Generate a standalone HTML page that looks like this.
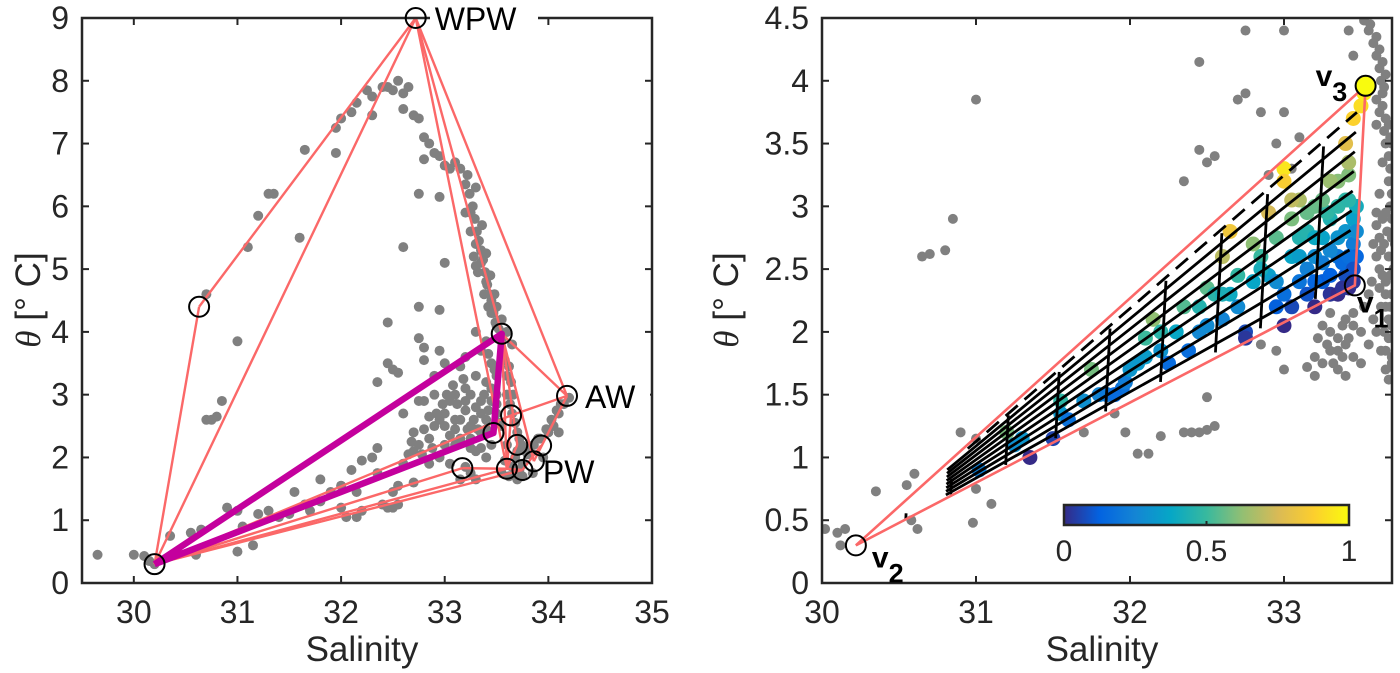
<!DOCTYPE html>
<html><head><meta charset="utf-8"><style>
body{margin:0;background:#fff}
svg{display:block;font-family:"Liberation Sans",sans-serif}
</style></head><body>
<svg id="fig" width="1400" height="673" viewBox="0 0 1400 673">
<defs>
<linearGradient id="parula" x1="0" x2="1" y1="0" y2="0">
<stop offset="0" stop-color="#352a87"/><stop offset="0.125" stop-color="#0363e1"/><stop offset="0.25" stop-color="#1485d4"/><stop offset="0.375" stop-color="#06a7c6"/><stop offset="0.5" stop-color="#38b99e"/><stop offset="0.625" stop-color="#92bf73"/><stop offset="0.75" stop-color="#d9ba56"/><stop offset="0.875" stop-color="#fcce2e"/><stop offset="1" stop-color="#f9fb0e"/>
</linearGradient>
<clipPath id="clipR"><rect x="822" y="18" width="570" height="565"/></clipPath>
</defs>
<g id="L"></g>
<g id="R"></g>
</svg>
<script>
// ---------- data ----------
const leftGray=[[29.65,0.45],[30.0,0.45],[30.1,0.43],[30.15,0.35],[30.2,0.3],[30.35,0.75],[30.55,0.8],[30.65,0.85],[30.6,0.45],[31.0,0.5],[31.05,0.9],[31.15,0.6],[30.9,1.2],[31.0,1.15],[31.2,1.1],[31.3,1.15],[31.4,1.05],[31.5,1.1],[31.55,1.45],[31.65,1.25],[31.8,1.3],[31.8,1.65],[31.9,1.45],[32.0,1.2],[32.0,1.55],[32.05,1.05],[32.15,1.05],[32.2,1.15],[32.1,1.8],[32.2,1.95],[32.3,2.0],[32.35,1.75],[32.35,2.15],[32.4,1.25],[32.45,1.2],[32.5,1.2],[32.55,1.25],[32.5,1.45],[32.6,1.9],[32.65,2.05],[32.7,2.1],[32.7,2.4],[32.75,2.2],[32.8,2.45],[32.85,2.3],[32.9,2.5],[32.95,2.6],[33.0,2.7],[33.0,2.2],[33.05,2.9],[33.1,2.6],[33.1,3.0],[33.15,2.3],[33.2,2.75],[33.2,3.1],[33.25,2.5],[33.3,2.8],[33.3,3.3],[33.35,2.4],[33.35,2.9],[33.4,3.2],[33.4,2.6],[33.45,2.9],[33.45,3.5],[33.5,3.0],[33.5,2.7],[32.9,3.0],[32.8,2.9],[32.6,2.7],[32.75,2.9],[32.9,3.3],[33.0,3.5],[32.8,3.55],[33.15,3.45],[33.05,1.9],[33.2,1.85],[33.25,1.75],[33.3,1.65],[33.4,2.0],[33.55,3.6],[33.6,3.3],[33.6,3.0],[33.65,2.7],[33.7,2.4],[33.7,2.1],[33.75,1.9],[33.7,1.65],[33.8,2.05],[33.9,2.3],[34.0,2.4],[34.05,2.5],[34.1,2.7],[34.15,2.85],[34.2,2.95],[33.6,2.2],[33.65,1.85],[33.55,2.5],[33.6,4.0],[33.65,3.8],[33.55,4.2],[30.7,2.6],[30.75,2.6],[30.8,2.65],[30.85,2.9],[31.0,3.85],[30.7,4.6],[31.1,5.35],[31.2,5.85],[31.3,6.2],[31.35,6.2],[31.6,5.5],[31.65,6.9],[31.95,7.25],[31.95,6.85],[32.0,7.4],[32.1,7.5],[32.15,7.65],[32.3,7.45],[32.25,7.85],[32.3,7.75],[32.4,7.9],[32.45,7.9],[32.5,7.85],[32.55,8.0],[32.6,7.8],[32.65,7.9],[32.6,7.55],[32.7,7.45],[32.75,7.4],[32.8,7.1],[32.85,7.0],[32.8,6.75],[32.9,6.85],[32.95,6.8],[33.0,6.65],[33.05,6.6],[33.1,6.7],[33.15,6.6],[33.2,6.35],[32.75,6.2],[32.95,6.15],[33.2,5.9],[33.25,5.9],[33.25,5.6],[33.3,5.4],[33.35,5.1],[33.4,4.8],[33.45,4.5],[33.45,4.3],[33.5,4.1],[32.6,5.35],[33.0,5.1],[32.75,4.4],[32.95,4.35],[32.75,3.9],[32.8,3.75],[32.95,3.7],[32.45,4.15],[32.45,3.5],[32.5,3.4],[32.35,3.2],[32.55,3.35],[33.28,5.2],[33.32,4.95],[33.38,4.6],[33.42,4.4],[33.3,4.0],[33.35,3.7],[33.2,3.6],[33.4,3.85],[33.5,3.3],[33.45,2.2],[33.3,2.1],[33.25,2.3],[33.1,2.2],[32.95,2.0],[32.85,1.9],[33.55,1.75],[33.75,1.7],[33.85,1.75],[33.95,2.0],[34.1,2.4],[33.15,1.65],[32.7,1.6],[32.55,1.55],[32.15,1.45],[31.7,1.15]];
const leftGrayDense=[[33.22,6.5],[33.24,6.2],[33.27,6.0],[33.29,5.8],[33.31,5.6],[33.33,5.45],[33.35,5.3],[33.37,5.15],[33.39,4.95],[33.41,4.75],[33.43,4.6],[33.45,4.45],[33.47,4.3],[33.49,4.15],[33.52,4.05],[33.36,5.7],[33.4,5.25],[33.44,4.9],[33.48,4.6],[33.5,4.4],[33.3,6.3],[33.3,5.05],[33.55,3.85],[33.58,3.55],[33.62,3.45],[33.64,3.2],[33.66,3.0],[33.63,2.85],[33.68,2.55],[33.72,2.3],[33.74,2.2],[33.78,2.1],[33.82,2.15],[33.86,2.2],[33.92,2.3],[33.98,2.45],[34.03,2.6],[34.08,2.75],[34.12,2.85],[33.68,2.0],[33.72,1.8],[33.62,1.7],[33.58,1.95],[33.25,3.0],[33.2,2.9],[33.15,2.6],[33.1,2.45],[33.05,2.35],[33.0,2.5],[33.35,2.7],[33.38,3.0],[33.42,2.75],[33.28,2.6],[33.32,2.45],[33.22,2.45],[33.12,2.85],[33.18,3.25],[33.08,3.15],[33.45,3.1],[33.5,2.85],[33.4,2.45],[33.35,2.15],[33.25,2.15],[32.98,2.85],[32.92,2.7],[32.85,2.65],[32.88,2.15],[32.78,2.05],[32.68,2.25],[33.02,3.0],[33.52,2.55],[33.48,3.4],[33.42,3.65]];
const leftVerts=[[32.72,9.0],[30.63,4.4],[30.2,0.3],[34.18,2.98],[33.55,3.97],[33.47,2.39],[33.64,2.67],[33.17,1.83],[33.6,1.82],[33.75,1.8],[33.86,1.94],[33.93,2.19],[33.7,2.2]];
const leftEdges=[[0,1],[1,2],[0,2],[0,4],[0,3],[0,8],[4,3],[4,10],[4,8],[3,6],[3,10],[2,7],[2,8],[2,6],[2,9],[7,8],[6,8],[8,9],[9,11],[4,12],[12,8]];
const leftMagenta=[[30.2,0.3],[33.55,3.97],[33.47,2.39],[30.2,0.3]];
const leftXTicks=[30,31,32,33,34,35];
const leftYTicks=[0,1,2,3,4,5,6,7,8,9];

const rightGray=[[31.0,3.85],[30.65,2.6],[30.7,2.62],[30.8,2.65],[30.85,2.9],[32.45,4.15],[32.75,4.4],[33.0,4.4],[32.7,3.85],[32.75,3.9],[32.45,3.45],[32.5,3.35],[32.55,3.4],[32.35,3.2],[32.85,3.75],[32.95,3.5],[33.0,3.75],[33.05,3.3],[32.9,3.25],[33.1,3.55],[30.02,0.43],[30.1,0.4],[30.15,0.43],[30.12,0.3],[30.35,0.73],[30.55,0.78],[30.6,0.87],[30.58,0.5],[30.62,0.43],[30.9,1.2],[31.0,1.15],[31.0,0.75],[31.1,0.63],[30.98,0.48],[31.7,1.2],[31.9,1.35],[31.97,1.2],[32.05,1.03],[32.12,1.03],[32.2,1.17],[32.35,1.2],[32.4,1.2],[32.45,1.2],[32.5,1.22],[32.55,1.25],[32.5,1.48],[32.85,1.9],[33.0,1.7],[32.95,1.85],[33.15,1.72],[33.2,1.65],[33.25,1.75],[33.3,1.85],[33.25,2.05],[33.3,2.15],[33.35,1.95],[33.4,2.1],[33.3,2.3],[33.52,4.48],[33.55,4.4],[33.58,4.3],[33.6,4.2],[33.62,4.1],[33.63,4.0],[33.6,3.85],[33.62,3.75],[33.65,3.6],[33.66,3.5],[33.68,3.4],[33.7,3.3],[33.68,3.2],[33.7,3.1],[33.72,3.0],[33.7,2.9],[33.74,2.85],[33.6,2.85],[33.62,2.75],[33.65,2.7],[33.72,2.7],[33.75,2.6],[33.6,2.6],[33.62,2.5],[33.66,2.4],[33.7,2.3],[33.73,2.2],[33.75,2.1],[33.68,2.1],[33.72,2.0],[33.74,1.9],[33.7,1.8],[33.72,1.7],[33.75,1.75],[33.68,1.62],[33.55,2.3],[33.52,2.2],[33.45,2.15],[33.5,2.0],[33.4,1.9],[33.45,1.8],[33.35,1.7],[33.4,1.65],[33.5,1.75],[33.55,1.9],[33.5,3.95],[33.45,4.2],[33.42,4.4],[33.6,3.65],[33.56,4.45],[33.64,3.9],[33.69,3.55],[33.71,2.5],[33.66,2.2],[33.6,2.0],[33.63,1.85]];
const rightGrayBand=[[33.6,4.35],[33.62,4.25],[33.64,4.15],[33.66,4.05],[33.65,3.95],[33.64,3.8],[33.66,3.7],[33.68,3.65],[33.7,3.5],[33.71,3.4],[33.69,3.3],[33.71,3.2],[33.69,3.0],[33.66,2.95],[33.64,2.9],[33.67,2.8],[33.7,2.75],[33.63,2.65],[33.68,2.6],[33.64,2.45],[33.69,2.45],[33.62,2.35],[33.66,2.3],[33.63,2.2],[33.69,2.2],[33.7,2.05],[33.65,2.0],[33.68,1.95],[33.66,1.85],[33.7,1.75],[33.66,1.7],[33.58,2.1],[33.57,2.4],[33.58,2.7],[33.6,2.95],[33.62,3.1],[33.64,3.35],[33.3,2.0],[33.28,1.9],[33.35,1.85],[33.32,1.75],[33.38,1.8],[33.42,1.95],[33.45,2.05],[33.38,2.05],[33.22,1.95],[33.2,1.8]];
const rightColored=[[31.02,0.9],[31.2,1.2],[31.25,1.1],[31.3,1.15],[31.35,1.0],[31.5,1.15],[31.55,1.45],[31.55,1.35],[31.6,1.3],[31.75,1.7],[31.8,1.5],[31.85,1.5],[31.95,1.55],[31.97,1.6],[32.0,1.7],[32.1,1.95],[32.1,1.8],[32.15,2.1],[32.2,1.85],[32.25,1.75],[32.35,2.2],[32.38,1.85],[32.45,2.0],[32.5,2.35],[32.5,2.05],[32.55,2.3],[32.6,2.1],[32.65,2.3],[32.7,2.2],[32.75,2.0],[32.75,1.95],[32.8,2.4],[32.85,2.6],[32.9,2.95],[32.95,2.75],[33.0,2.05],[33.0,2.3],[33.0,3.3],[33.0,3.2],[33.05,2.6],[33.05,2.9],[33.1,2.75],[33.1,3.05],[33.15,2.5],[33.15,2.8],[33.2,2.6],[33.2,3.0],[33.25,2.4],[33.25,2.75],[33.3,2.9],[33.3,2.3],[33.35,2.6],[33.35,3.2],[33.4,2.45],[33.4,2.8],[33.4,3.05],[33.45,2.7],[33.45,2.9],[33.42,3.25],[33.4,3.5],[33.45,3.7],[33.5,3.8],[33.35,2.3],[33.42,2.35],[33.47,2.6],[33.47,3.0],[32.9,2.45],[32.95,2.2],[32.85,2.5],[32.6,2.6],[32.65,2.8],[32.8,2.7],[33.52,3.9],[33.2,2.2],[33.25,2.55],[33.3,2.45],[33.35,2.75],[33.38,2.55],[33.42,2.6],[33.45,2.5],[33.45,2.4],[33.38,2.35],[33.3,2.65],[33.2,2.4],[33.1,2.4],[33.15,2.3],[33.05,2.2],[32.95,2.4],[33.1,2.6],[33.2,2.75],[33.28,2.95],[33.35,3.0],[33.42,3.05],[33.47,2.8],[33.25,3.05],[33.15,2.95],[33.05,3.05],[33.42,3.35],[33.3,3.2],[32.7,2.45],[32.6,2.3],[32.45,2.2],[32.3,2.0],[32.2,2.0],[32.05,1.75],[31.9,1.5],[31.7,1.45]];
const v1=[33.46,2.37], v2=[30.22,0.3], v3=[33.53,3.96];
const fanFractions=[0.1,0.2,0.3,0.4,0.5,0.6,0.7,0.8,0.9];
const crossFractions=[0.19,0.3,0.4,0.5,0.61,0.72,0.81,0.92];
const rightXTicks=[30,31,32,33];
const rightYTicks=[0,0.5,1,1.5,2,2.5,3,3.5,4,4.5];
const cbTicks=[0,0.5,1];

// ---------- helpers ----------
const NS="http://www.w3.org/2000/svg";
function mk(parent,tag,attrs,text){const e=document.createElementNS(NS,tag);for(const k in attrs)e.setAttribute(k,attrs[k]);if(text!==undefined)e.textContent=text;parent.appendChild(e);return e;}
const RED="#fb6868",GRAY="#808080",AX="#262626";

function axesFrame(g,x0,x1,y0,y1,xTicks,yTicks,sx,sy,fmt){
  const fr=mk(g,'rect',{x:x0,y:y0,width:x1-x0,height:y1-y0,fill:'none',stroke:AX,'stroke-width':2.5});
  
  xTicks.forEach(v=>{const x=sx(v);
    mk(g,'line',{x1:x,x2:x,y1:y1,y2:y1-7,stroke:AX,'stroke-width':2});
    mk(g,'line',{x1:x,x2:x,y1:y0,y2:y0+7,stroke:AX,'stroke-width':2});
    const t=mk(g,'text',{x:x,y:y1+40,'font-size':32,'text-anchor':'middle',fill:AX},String(v));
    });
  yTicks.forEach(v=>{const y=sy(v);
    mk(g,'line',{x1:x0,x2:x0+7,y1:y,y2:y,stroke:AX,'stroke-width':2});
    mk(g,'line',{x1:x1,x2:x1-7,y1:y,y2:y,stroke:AX,'stroke-width':2});
    const t=mk(g,'text',{x:x0-13,y:y+11,'font-size':32,'text-anchor':'end',fill:AX},fmt(v));
    });
  const xl=mk(g,'text',{x:(x0+x1)/2-5,y:y1+78,'font-size':35,'text-anchor':'middle',fill:AX},'Salinity');
  
}
function yTitle(g,x,y){
  const t=mk(g,'text',{transform:`translate(${x},${y}) rotate(-90)`,'font-size':35,'text-anchor':'middle',fill:AX});
  
  mk(t,'tspan',{'font-family':'Liberation Serif, serif','font-style':'italic'},'θ');
  mk(t,'tspan',{},' [° C]');
}

// ---------- left ----------
(function(){
const g=document.getElementById('L');
const X0=82,X1=652,Y0=18,Y1=583;
const sx=s=>X0+(s-29.5)*(X1-X0)/5.5, sy=t=>Y1-t*(Y1-Y0)/9;
leftGray.concat(leftGrayDense).forEach(p=>{const c=mk(g,'circle',{cx:sx(p[0]),cy:sy(p[1]),r:5,fill:GRAY});
  });
leftEdges.forEach(e=>{const a=leftVerts[e[0]],b=leftVerts[e[1]];
  const l=mk(g,'line',{x1:sx(a[0]),y1:sy(a[1]),x2:sx(b[0]),y2:sy(b[1]),stroke:RED,'stroke-width':2.4});
  });
const mp=mk(g,'polyline',{points:leftMagenta.map(p=>sx(p[0])+','+sy(p[1])).join(' '),fill:'none',stroke:'#c4009d','stroke-width':6.5,'stroke-linejoin':'round'});

axesFrame(g,X0,X1,Y0,Y1,leftXTicks,leftYTicks,sx,sy,v=>String(v));
mk(g,'rect',{x:430,y:2,width:108,height:32,fill:'#fff'});
mk(g,'rect',{x:582,y:380,width:68,height:32,fill:'#fff'});
leftVerts.forEach(p=>{const c=mk(g,'circle',{cx:sx(p[0]),cy:sy(p[1]),r:10,fill:'none',stroke:'#000','stroke-width':2});
  });
[['WPW',0,19,12],['AW',3,18,12],['PW',10,9,22]].forEach(([n,i,dx,dy])=>{const p=leftVerts[i];
  const t=mk(g,'text',{x:sx(p[0])+dx,y:sy(p[1])+dy,'font-size':32,fill:'#000'},n);
  });
yTitle(g,40,300);
})();

// ---------- right ----------
(function(){
const g=document.getElementById('R');
const X0=822,X1=1392,Y0=18,Y1=583;
const ux=154;
const sx=s=>X0+(s-30)*ux, sy=t=>Y1-t*(Y1-Y0)/4.5;
const stops=[[0,[53,42,135]],[0.125,[3,99,225]],[0.25,[20,133,212]],[0.375,[6,167,198]],[0.5,[56,185,158]],[0.625,[146,191,115]],[0.75,[217,186,86]],[0.875,[252,206,46]],[1,[249,251,14]]];
function parula(v){v=Math.max(0,Math.min(1,v));for(let i=1;i<stops.length;i++){if(v<=stops[i][0]){const a=stops[i-1],b=stops[i],f=(v-a[0])/(b[0]-a[0]);return 'rgb('+a[1].map((c,k)=>Math.round(c+(b[1][k]-c)*f)).join(',')+')';}}return 'rgb(249,251,14)';}
function frac(p){
  const det=(v2[1]-v3[1])*(v1[0]-v3[0])+(v3[0]-v2[0])*(v1[1]-v3[1]);
  const a=((v2[1]-v3[1])*(p[0]-v3[0])+(v3[0]-v2[0])*(p[1]-v3[1]))/det;
  const b=((v3[1]-v1[1])*(p[0]-v3[0])+(v1[0]-v3[0])*(p[1]-v3[1]))/det;
  const c=1-a-b; return c/Math.max(1e-6,(a+c));
}
const cg=mk(g,'g',{'clip-path':'url(#clipR)'});
rightGray.concat(rightGrayBand).forEach(p=>{const c=mk(cg,'circle',{cx:sx(p[0]),cy:sy(p[1]),r:5,fill:GRAY});
  });
rightColored.forEach(p=>{const c=mk(cg,'circle',{cx:sx(p[0]),cy:sy(p[1]),r:7.5,fill:parula(frac(p))});
  });
const P=(t,f)=>{const q=[v1[0]+f*(v3[0]-v1[0]),v1[1]+f*(v3[1]-v1[1])];return [v2[0]+t*(q[0]-v2[0]),v2[1]+t*(q[1]-v2[1])];};
fanFractions.forEach(f=>{
  const a=P(f>=0.9?0.22:0.18,f),b=P(0.985,f);
  const l=mk(g,'line',{x1:sx(a[0]),y1:sy(a[1]),x2:sx(b[0]),y2:sy(b[1]),stroke:'#000','stroke-width':2.8,'stroke-dasharray':f>=0.9?'16 9':'none'});
  
});
const sc=P(0.1,0.0),sd=P(0.1,0.3);
const s1=mk(g,'line',{x1:sx(sc[0]),y1:sy(sc[1]),x2:sx(sd[0]),y2:sy(sd[1]),stroke:'#000','stroke-width':2.8});

crossFractions.forEach(t=>{
  const a=P(t,0.04),b=P(t,t<0.25?0.45:0.87);
  const l=mk(g,'line',{x1:sx(a[0]),y1:sy(a[1]),x2:sx(b[0]),y2:sy(b[1]),stroke:'#000','stroke-width':2.8});
  
});
const tri=mk(g,'polygon',{points:[v1,v2,v3].map(p=>sx(p[0])+','+sy(p[1])).join(' '),fill:'none',stroke:RED,'stroke-width':2.6});

axesFrame(g,X0,X1,Y0,Y1,rightXTicks,rightYTicks,sx,sy,v=>String(v));
[[v1,'none'],[v2,'none'],[v3,'#f9fb0e']].forEach(([p,f])=>{
  const c=mk(g,'circle',{cx:sx(p[0]),cy:sy(p[1]),r:10,fill:f,stroke:'#000','stroke-width':2});
  });
[[v1,'1',2,27],[v2,'2',16,22],[v3,'3',-50,0]].forEach(([p,n,dx,dy])=>{
  const t=mk(g,'text',{x:sx(p[0])+dx,y:sy(p[1])+dy,'font-size':30,'font-weight':'bold',fill:'#000'});
  
  mk(t,'tspan',{},'v');mk(t,'tspan',{dy:15,'font-size':27},n);});
const cx0=1064,cx1=1349,cy0=505,cy1=525;
const cb=mk(g,'rect',{x:cx0,y:cy0,width:cx1-cx0,height:cy1-cy0,fill:'url(#parula)',stroke:AX,'stroke-width':2.5});

cbTicks.forEach(v=>{const x=cx0+v*(cx1-cx0);
  mk(g,'line',{x1:x,x2:x,y1:cy1,y2:cy1-4,stroke:AX,'stroke-width':2});
  const t=mk(g,'text',{x:x,y:cy1+36,'font-size':30,'text-anchor':'middle',fill:AX},String(v));
  });
yTitle(g,738,300);
})();
</script>
</body></html>
